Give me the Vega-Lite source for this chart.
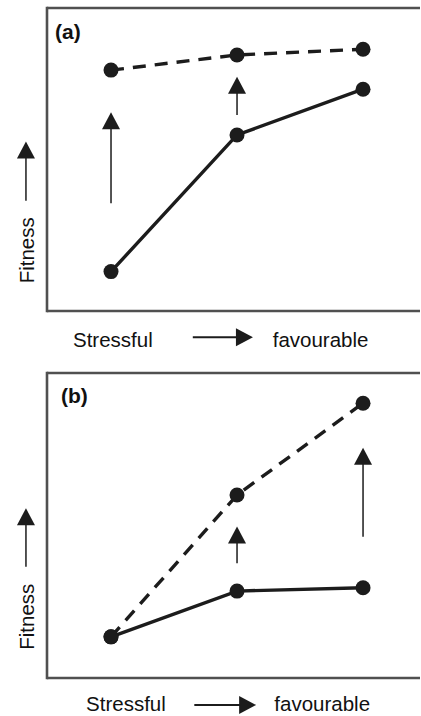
{
  "$schema": "https://vega.github.io/schema/vega-lite/v6.json",
  "padding": {"left": 16, "top": 6, "right": 0, "bottom": 0},
  "bounds": "flush",
  "spacing": 62,
  "background": "white",
  "config": {
    "view": {"stroke": null},
    "axis": {"disable": true},
    "font": "Liberation Sans",
    "text": {"font": "Liberation Sans", "fontSize": 20.5, "color": "#111111"}
  },
  "datasets": {
    "frame": [{"side": "box"}],
    "points": [
      {"panel": "a", "series": "plastic", "env": 1, "fitness": 7.95},
      {"panel": "a", "series": "plastic", "env": 2, "fitness": 8.45},
      {"panel": "a", "series": "plastic", "env": 3, "fitness": 8.64},
      {"panel": "a", "series": "baseline", "env": 1, "fitness": 1.30},
      {"panel": "a", "series": "baseline", "env": 2, "fitness": 5.81},
      {"panel": "a", "series": "baseline", "env": 3, "fitness": 7.32},
      {"panel": "b", "series": "plastic", "env": 1, "fitness": 1.35},
      {"panel": "b", "series": "plastic", "env": 2, "fitness": 6.00},
      {"panel": "b", "series": "plastic", "env": 3, "fitness": 9.01},
      {"panel": "b", "series": "baseline", "env": 1, "fitness": 1.35},
      {"panel": "b", "series": "baseline", "env": 2, "fitness": 2.85},
      {"panel": "b", "series": "baseline", "env": 3, "fitness": 2.96}
    ],
    "varrows": [
      {"panel": "a", "x": 1, "from": 3.56, "to": 6.28},
      {"panel": "a", "x": 2, "from": 6.47, "to": 7.45},
      {"panel": "a", "x": 0.325, "from": 3.64, "to": 5.31},
      {"panel": "b", "x": 2, "from": 3.76, "to": 4.69},
      {"panel": "b", "x": 3, "from": 4.63, "to": 7.27},
      {"panel": "b", "x": 0.325, "from": 3.65, "to": 5.29}
    ],
    "harrows": [
      {"panel": "a", "y": -0.868, "from": 1.649, "to": 2.059},
      {"panel": "b", "y": -0.885, "from": 1.661, "to": 2.084}
    ],
    "tags": [
      {"panel": "a", "x": 0.556, "y": 8.977, "label": "(a)"},
      {"panel": "b", "x": 0.603, "y": 9.016, "label": "(b)"}
    ],
    "words": [
      {"panel": "a", "x": 0.698, "y": -1.178, "label": "Stressful"},
      {"panel": "a", "x": 2.283, "y": -1.178, "label": "favourable"},
      {"panel": "b", "x": 0.802, "y": -1.098, "label": "Stressful"},
      {"panel": "b", "x": 2.296, "y": -1.098, "label": "favourable"}
    ],
    "ytitles": [
      {"panel": "a", "x": 0.389, "y": 2.003, "label": "Fitness"},
      {"panel": "b", "x": 0.389, "y": 2.010, "label": "Fitness"}
    ]
  },
  "vconcat": [
    {
      "width": 373,
      "height": 303,
      "layer": [
        {"data": {"name": "frame"}, "mark": {"type": "rule", "color": "#505050", "strokeWidth": 2.6},
         "encoding": {"x": {"datum": 0.492, "type": "quantitative", "scale": {"domain": [0.492, 3.452], "nice": false, "zero": false}}, "x2": {"datum": 3.452}, "y": {"datum": 10, "type": "quantitative", "scale": {"domain": [0, 10], "nice": false, "zero": false}}}},
        {"data": {"name": "frame"}, "mark": {"type": "rule", "color": "#505050", "strokeWidth": 2.6},
         "encoding": {"x": {"datum": 0.492, "type": "quantitative"}, "x2": {"datum": 3.452}, "y": {"datum": 0, "type": "quantitative"}}},
        {"data": {"name": "frame"}, "mark": {"type": "rule", "color": "#505050", "strokeWidth": 2.6, "strokeCap": "square"},
         "encoding": {"x": {"datum": 0.492, "type": "quantitative"}, "y": {"datum": 0, "type": "quantitative"}, "y2": {"datum": 10}}},
        {"data": {"name": "points"}, "transform": [{"filter": "datum.panel === 'a' && datum.series === 'plastic'"}],
         "mark": {"type": "line", "color": "#1c1c1c", "strokeWidth": 3.4, "strokeDash": [13, 9]},
         "encoding": {"x": {"field": "env", "type": "quantitative"}, "y": {"field": "fitness", "type": "quantitative"}}},
        {"data": {"name": "points"}, "transform": [{"filter": "datum.panel === 'a' && datum.series === 'baseline'"}],
         "mark": {"type": "line", "color": "#1c1c1c", "strokeWidth": 3.4},
         "encoding": {"x": {"field": "env", "type": "quantitative"}, "y": {"field": "fitness", "type": "quantitative"}}},
        {"data": {"name": "points"}, "transform": [{"filter": "datum.panel === 'a'"}],
         "mark": {"type": "point", "filled": true, "shape": "circle", "size": 225, "color": "#1c1c1c", "opacity": 1},
         "encoding": {"x": {"field": "env", "type": "quantitative"}, "y": {"field": "fitness", "type": "quantitative"}}},
        {"data": {"name": "varrows"}, "transform": [{"filter": "datum.panel === 'a'"}],
         "mark": {"type": "rule", "color": "#1c1c1c", "strokeWidth": 1.5},
         "encoding": {"x": {"field": "x", "type": "quantitative"}, "y": {"field": "from", "type": "quantitative"}, "y2": {"field": "to"}}},
        {"data": {"name": "varrows"}, "transform": [{"filter": "datum.panel === 'a'"}],
         "mark": {"type": "point", "filled": true, "shape": "M0,-1L1.06,1L-1.06,1Z", "size": 289, "color": "#1c1c1c", "opacity": 1},
         "encoding": {"x": {"field": "x", "type": "quantitative"}, "y": {"field": "to", "type": "quantitative"}}},
        {"data": {"name": "harrows"}, "transform": [{"filter": "datum.panel === 'a'"}],
         "mark": {"type": "rule", "color": "#1c1c1c", "strokeWidth": 2},
         "encoding": {"x": {"field": "from", "type": "quantitative"}, "x2": {"field": "to"}, "y": {"field": "y", "type": "quantitative"}}},
        {"data": {"name": "harrows"}, "transform": [{"filter": "datum.panel === 'a'"}],
         "mark": {"type": "point", "filled": true, "shape": "M1,0L-1,-1.06L-1,1.06Z", "size": 289, "color": "#1c1c1c", "opacity": 1},
         "encoding": {"x": {"field": "to", "type": "quantitative"}, "y": {"field": "y", "type": "quantitative"}}},
        {"data": {"name": "tags"}, "transform": [{"filter": "datum.panel === 'a'"}],
         "mark": {"type": "text", "align": "left", "baseline": "alphabetic", "fontWeight": "bold", "fontSize": 21},
         "encoding": {"x": {"field": "x", "type": "quantitative"}, "y": {"field": "y", "type": "quantitative"}, "text": {"field": "label"}}},
        {"data": {"name": "words"}, "transform": [{"filter": "datum.panel === 'a'"}],
         "mark": {"type": "text", "align": "left", "baseline": "alphabetic"},
         "encoding": {"x": {"field": "x", "type": "quantitative"}, "y": {"field": "y", "type": "quantitative"}, "text": {"field": "label"}}},
        {"data": {"name": "ytitles"}, "transform": [{"filter": "datum.panel === 'a'"}],
         "mark": {"type": "text", "align": "center", "baseline": "alphabetic", "angle": 270},
         "encoding": {"x": {"field": "x", "type": "quantitative"}, "y": {"field": "y", "type": "quantitative"}, "text": {"field": "label"}}}
      ]
    },
    {
      "width": 373,
      "height": 305,
      "layer": [
        {"data": {"name": "frame"}, "mark": {"type": "rule", "color": "#505050", "strokeWidth": 2.6},
         "encoding": {"x": {"datum": 0.492, "type": "quantitative", "scale": {"domain": [0.492, 3.452], "nice": false, "zero": false}}, "x2": {"datum": 3.452}, "y": {"datum": 10, "type": "quantitative", "scale": {"domain": [0, 10], "nice": false, "zero": false}}}},
        {"data": {"name": "frame"}, "mark": {"type": "rule", "color": "#505050", "strokeWidth": 2.6},
         "encoding": {"x": {"datum": 0.492, "type": "quantitative"}, "x2": {"datum": 3.452}, "y": {"datum": 0, "type": "quantitative"}}},
        {"data": {"name": "frame"}, "mark": {"type": "rule", "color": "#505050", "strokeWidth": 2.6, "strokeCap": "square"},
         "encoding": {"x": {"datum": 0.492, "type": "quantitative"}, "y": {"datum": 0, "type": "quantitative"}, "y2": {"datum": 10}}},
        {"data": {"name": "points"}, "transform": [{"filter": "datum.panel === 'b' && datum.series === 'plastic'"}],
         "mark": {"type": "line", "color": "#1c1c1c", "strokeWidth": 3.4, "strokeDash": [13, 9]},
         "encoding": {"x": {"field": "env", "type": "quantitative"}, "y": {"field": "fitness", "type": "quantitative"}}},
        {"data": {"name": "points"}, "transform": [{"filter": "datum.panel === 'b' && datum.series === 'baseline'"}],
         "mark": {"type": "line", "color": "#1c1c1c", "strokeWidth": 3.4},
         "encoding": {"x": {"field": "env", "type": "quantitative"}, "y": {"field": "fitness", "type": "quantitative"}}},
        {"data": {"name": "points"}, "transform": [{"filter": "datum.panel === 'b'"}],
         "mark": {"type": "point", "filled": true, "shape": "circle", "size": 225, "color": "#1c1c1c", "opacity": 1},
         "encoding": {"x": {"field": "env", "type": "quantitative"}, "y": {"field": "fitness", "type": "quantitative"}}},
        {"data": {"name": "varrows"}, "transform": [{"filter": "datum.panel === 'b'"}],
         "mark": {"type": "rule", "color": "#1c1c1c", "strokeWidth": 1.5},
         "encoding": {"x": {"field": "x", "type": "quantitative"}, "y": {"field": "from", "type": "quantitative"}, "y2": {"field": "to"}}},
        {"data": {"name": "varrows"}, "transform": [{"filter": "datum.panel === 'b'"}],
         "mark": {"type": "point", "filled": true, "shape": "M0,-1L1.06,1L-1.06,1Z", "size": 289, "color": "#1c1c1c", "opacity": 1},
         "encoding": {"x": {"field": "x", "type": "quantitative"}, "y": {"field": "to", "type": "quantitative"}}},
        {"data": {"name": "harrows"}, "transform": [{"filter": "datum.panel === 'b'"}],
         "mark": {"type": "rule", "color": "#1c1c1c", "strokeWidth": 2},
         "encoding": {"x": {"field": "from", "type": "quantitative"}, "x2": {"field": "to"}, "y": {"field": "y", "type": "quantitative"}}},
        {"data": {"name": "harrows"}, "transform": [{"filter": "datum.panel === 'b'"}],
         "mark": {"type": "point", "filled": true, "shape": "M1,0L-1,-1.06L-1,1.06Z", "size": 289, "color": "#1c1c1c", "opacity": 1},
         "encoding": {"x": {"field": "to", "type": "quantitative"}, "y": {"field": "y", "type": "quantitative"}}},
        {"data": {"name": "tags"}, "transform": [{"filter": "datum.panel === 'b'"}],
         "mark": {"type": "text", "align": "left", "baseline": "alphabetic", "fontWeight": "bold", "fontSize": 21},
         "encoding": {"x": {"field": "x", "type": "quantitative"}, "y": {"field": "y", "type": "quantitative"}, "text": {"field": "label"}}},
        {"data": {"name": "words"}, "transform": [{"filter": "datum.panel === 'b'"}],
         "mark": {"type": "text", "align": "left", "baseline": "alphabetic"},
         "encoding": {"x": {"field": "x", "type": "quantitative"}, "y": {"field": "y", "type": "quantitative"}, "text": {"field": "label"}}},
        {"data": {"name": "ytitles"}, "transform": [{"filter": "datum.panel === 'b'"}],
         "mark": {"type": "text", "align": "center", "baseline": "alphabetic", "angle": 270},
         "encoding": {"x": {"field": "x", "type": "quantitative"}, "y": {"field": "y", "type": "quantitative"}, "text": {"field": "label"}}}
      ]
    }
  ]
}
